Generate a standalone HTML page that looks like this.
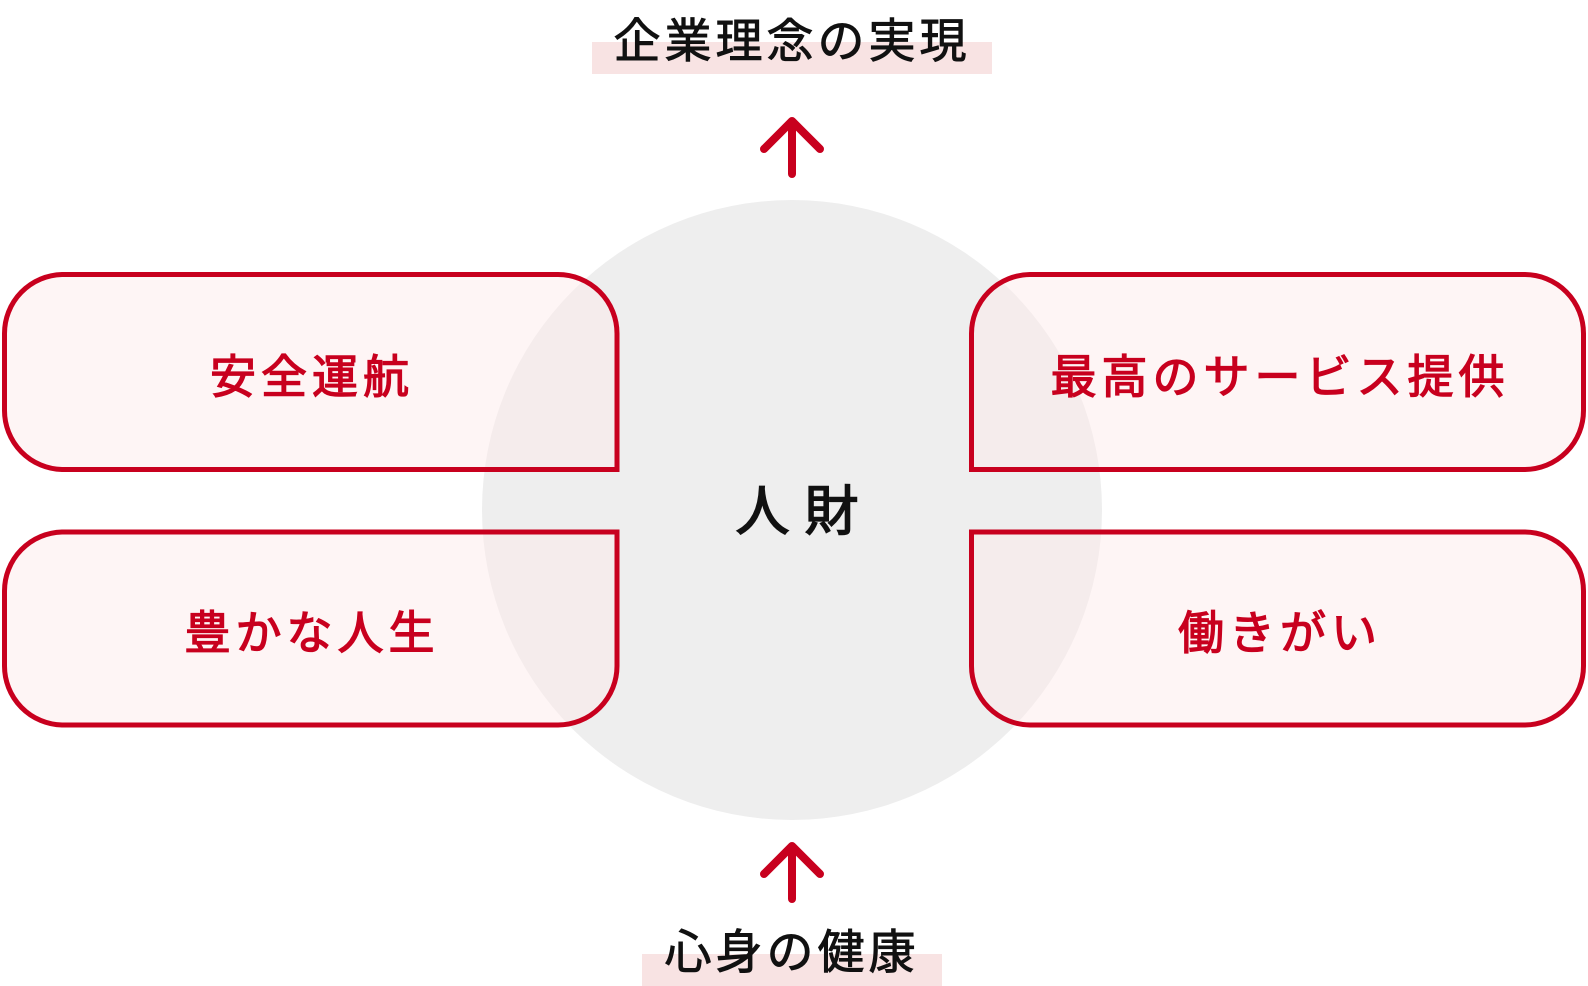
<!DOCTYPE html>
<html><head><meta charset="utf-8"><style>
html,body{margin:0;padding:0;background:#fff;}
svg{display:block;}
text{font-family:"Liberation Sans","Noto Sans CJK JP",sans-serif;}
</style></head><body>
<svg width="1588" height="986" viewBox="0 0 1588 986" xmlns="http://www.w3.org/2000/svg">
<rect x="592" y="42" width="400" height="32" fill="#f8e3e3"/>
<text x="792" y="41" text-anchor="middle" font-size="47" letter-spacing="4" fill="#111" stroke="#111" stroke-width="0.9" dominant-baseline="central">企業理念の実現</text>
<g stroke="#c8001e" stroke-width="8" stroke-linecap="round" stroke-linejoin="round" fill="none">
<path d="M792 174 V122 M764 149 L792 121 L820 149"/>
<path d="M792 899 V847 M764 874 L792 846 L820 874"/>
</g>
<circle cx="792" cy="510" r="310" fill="#eeeeee"/>
<g fill="rgba(252,232,232,0.45)" stroke="#c8001e" stroke-width="5">
<path d="M62 274.5 H558 A59 59 0 0 1 617 333.5 V469.5 H62 A59 59 0 0 1 4.5 410.5 V333.5 A59 59 0 0 1 62 274.5 Z"/>
<path d="M4.5 591 A59 59 0 0 1 62 532 H617 V666 A59 59 0 0 1 558 725 H62 A59 59 0 0 1 4.5 666 Z"/>
<path d="M1030 274.5 H1525 A59 59 0 0 1 1583.5 333.5 V410.5 A59 59 0 0 1 1525 469.5 H971.5 V333.5 A59 59 0 0 1 1030 274.5 Z"/>
<path d="M971.5 532 H1525 A59 59 0 0 1 1583.5 591 V666 A59 59 0 0 1 1525 725 H1030 A59 59 0 0 1 971.5 666 Z"/>
</g>
<g font-size="46" fill="#c8001e" stroke="#c8001e" stroke-width="1.3" text-anchor="middle" letter-spacing="5">
<text x="312" y="377" dominant-baseline="central">安全運航</text>
<text x="312" y="633" dominant-baseline="central">豊かな人生</text>
<text x="1280" y="377" dominant-baseline="central">最高のサービス提供</text>
<text x="1280" y="633" dominant-baseline="central">働きがい</text>
</g>
<text x="797" y="512" text-anchor="middle" font-size="54" fill="#111" stroke="#111" stroke-width="1.6" dominant-baseline="central">人 財</text>
<rect x="642" y="954" width="300" height="32" fill="#f8e3e3"/>
<text x="792" y="952" text-anchor="middle" font-size="47" letter-spacing="4" fill="#111" stroke="#111" stroke-width="0.9" dominant-baseline="central">心身の健康</text>
</svg>
</body></html>
